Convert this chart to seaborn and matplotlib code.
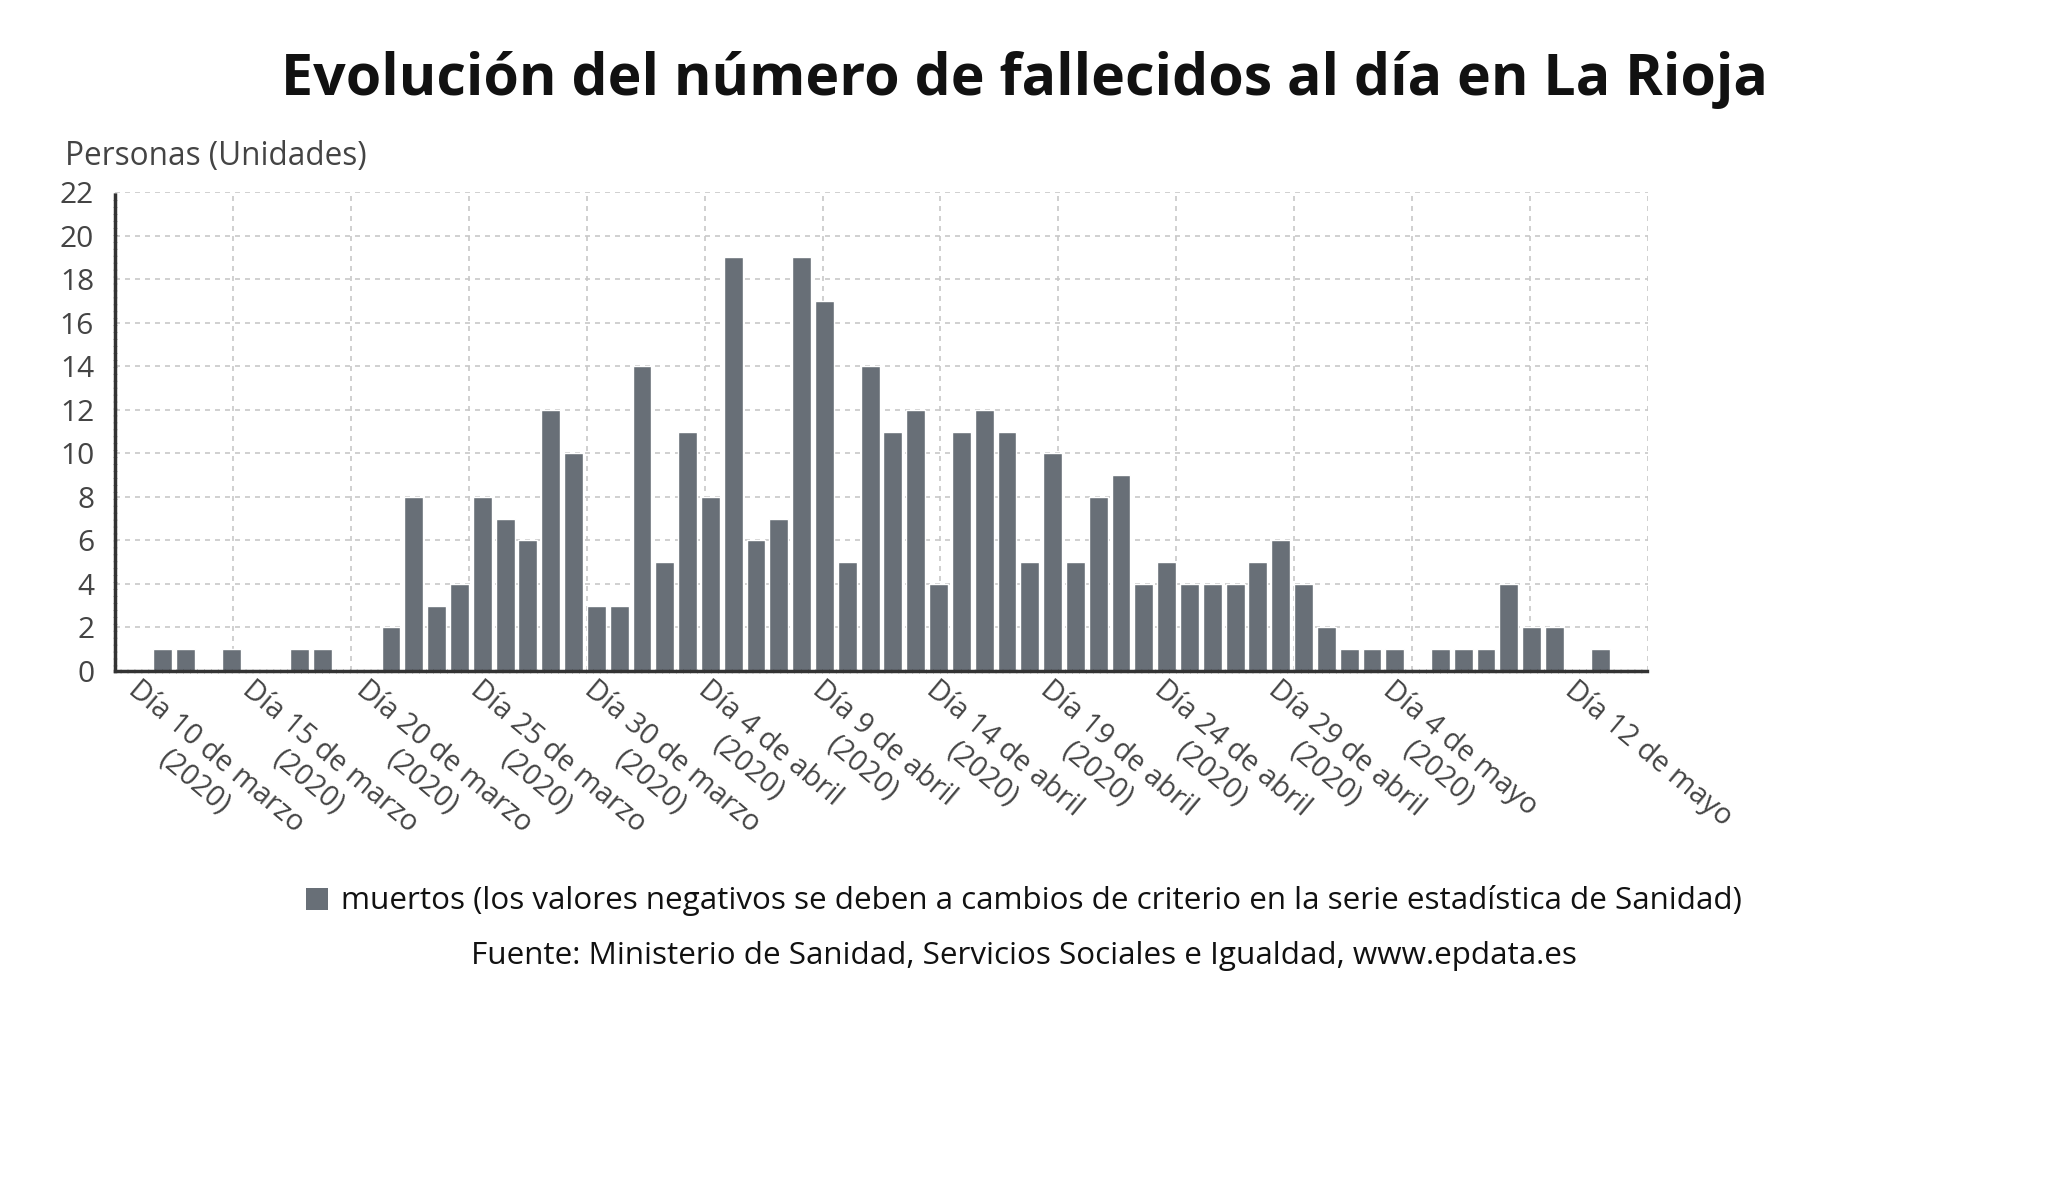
import numpy as np
import pandas as pd
import matplotlib
matplotlib.use("Agg")
import matplotlib.pyplot as plt
import matplotlib.transforms as mtransforms
import seaborn as sns
from matplotlib.patches import Patch

# ---------------- data ----------------
days = [d.strftime("%Y-%m-%d") for d in pd.date_range("2020-03-10", "2020-05-12", freq="D")]
muertos = [
    1, 1, 0, 1, 0, 0, 1, 1, 0, 0, 2, 8, 3, 4, 8, 7, 6, 12, 10, 3, 3, 14,   # marzo 10-31
    5, 11, 8, 19, 6, 7, 19, 17, 5, 14, 11, 12, 4, 11, 12, 11, 5, 10, 5, 8,  # abril 1-20
    9, 4, 5, 4, 4, 4, 5, 6, 4, 2,                                             # abril 21-30
    1, 1, 1, 0, 1, 1, 1, 4, 2, 2, 0, 1,                                       # mayo 1-12
]
tick_days = ["2020-03-10", "2020-03-15", "2020-03-20", "2020-03-25", "2020-03-30",
             "2020-04-04", "2020-04-09", "2020-04-14", "2020-04-19", "2020-04-24",
             "2020-04-29", "2020-05-04", "2020-05-12"]
tick_labels = ["Día 10 de marzo\n(2020)", "Día 15 de marzo\n(2020)", "Día 20 de marzo\n(2020)",
               "Día 25 de marzo\n(2020)", "Día 30 de marzo\n(2020)", "Día 4 de abril\n(2020)",
               "Día 9 de abril\n(2020)", "Día 14 de abril\n(2020)", "Día 19 de abril\n(2020)",
               "Día 24 de abril\n(2020)", "Día 29 de abril\n(2020)", "Día 4 de mayo\n(2020)",
               "Día 12 de mayo"]
y_ticks = [0, 2, 4, 6, 8, 10, 12, 14, 16, 18, 20, 22]

title = "Evolución del número de fallecidos al día en La Rioja"
y_title = "Personas (Unidades)"
legend_label = "muertos (los valores negativos se deben a cambios de criterio en la serie estadística de Sanidad)"
source = "Fuente: Ministerio de Sanidad, Servicios Sociales e Igualdad, www.epdata.es"

# ---------------- style ----------------
sns.set_style("white")
plt.rcParams["font.family"] = ["Open Sans", "DejaVu Sans"]

BAR = "#686f77"
TXT = "#444444"
GRID = "#c8c8c8"

df = pd.DataFrame({"dia": days, "muertos": muertos})

W, H = 2048, 1203
fig = plt.figure(figsize=(W / 100, H / 100), dpi=100)
L, R, T, B = 115, 1648, 192, 671
ax = fig.add_axes([L / W, 1 - B / H, (R - L) / W, (B - T) / H])

sns.barplot(data=df, x="dia", y="muertos", order=days, color=BAR, width=0.83,
            saturation=1, ax=ax, zorder=3)

n = len(days)
x0, x1 = -2.1, n - 1 + 2.1
ax.set_xlim(x0, x1)
ax.set_ylim(0, 22)

# grid
ax.set_yticks(y_ticks)
ax.set_yticklabels([str(v) for v in y_ticks], fontsize=21.5, color=TXT)
ax.yaxis.grid(True, color=GRID, linestyle=(0, (3, 3)), linewidth=1.2, zorder=0)
ax.set_xticks(np.linspace(x0, x1, 14), minor=True)
ax.xaxis.grid(True, which="minor", color=GRID, linestyle=(0, (3, 3)), linewidth=1.2, zorder=0)
ax.xaxis.grid(False, which="major")

tick_pos = [days.index(d) for d in tick_days]
ax.set_xticks(tick_pos)
ax.set_xticklabels([])
# rotated category labels, anchored slightly left of each tick
lab_tr = ax.get_xaxis_transform() + mtransforms.ScaledTranslation(-0.22, -0.04, fig.dpi_scale_trans)
for p, t in zip(tick_pos, tick_labels):
    ax.text(p, 0, t, transform=lab_tr, fontsize=20.8, color=TXT, rotation=-40,
            ha="left", va="top", rotation_mode="anchor", multialignment="center",
            clip_on=False)
ax.tick_params(axis="x", which="major", length=5, width=2, color="#333333", pad=1, direction="out")
ax.tick_params(axis="x", which="minor", length=0)
ax.tick_params(axis="y", length=5, width=2, color="#333333", pad=10, direction="out")
ax.set_xlabel("")
ax.set_ylabel("")

for s in ["top", "right"]:
    ax.spines[s].set_visible(False)
for s in ["left", "bottom"]:
    ax.spines[s].set_color("#333333")
    ax.spines[s].set_linewidth(2.5)
    ax.spines[s].set_linestyle((0, (1.2, 0.8)))
    ax.spines[s].set_zorder(4)

# texts
fig.text(1024 / W, 1 - 80 / H, title, ha="center", va="center", fontsize=41.2,
         fontweight="bold", color="#111111")
fig.text(65 / W, 1 - 157 / H, y_title, ha="left", va="center", fontsize=22.7, color=TXT)

handle = Patch(facecolor=BAR, edgecolor="none")
fig.legend(handles=[handle], labels=[legend_label], loc="center",
           bbox_to_anchor=(784 / 1568, 1 - 901 / H), frameon=False, fontsize=22.6,
           handlelength=0.7, handleheight=0.7, handletextpad=0.4,
           labelcolor="#111111")
fig.text(1024 / W, 1 - 956 / H, source, ha="center", va="center", fontsize=22.6, color="#111111")

fig.savefig("out.png", dpi=100, facecolor="white")
